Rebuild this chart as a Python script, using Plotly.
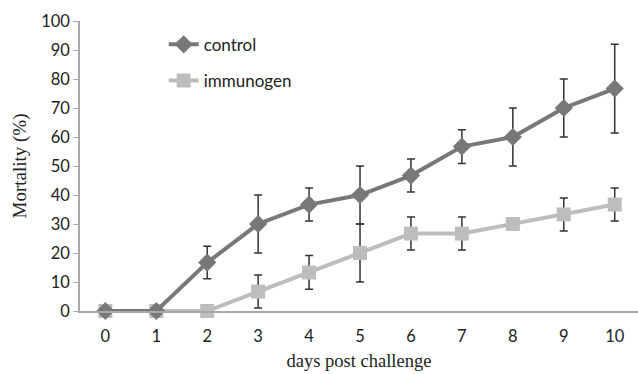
import plotly.graph_objects as go

days = [0, 1, 2, 3, 4, 5, 6, 7, 8, 9, 10]
control = [0, 0, 16.7, 30, 36.7, 40, 46.7, 56.7, 60, 70, 76.7]
control_err = [0, 0, 5.6, 10, 5.7, 10, 5.7, 5.8, 10, 10, 15.3]
immunogen = [0, 0, 0, 6.7, 13.3, 20, 26.7, 26.7, 30, 33.3, 36.7]
immunogen_err = [0, 0, 0, 5.7, 5.8, 10, 5.7, 5.7, 0, 5.7, 5.7]
yticks = [0, 10, 20, 30, 40, 50, 60, 70, 80, 90, 100]

fig = go.Figure()
fig.add_trace(go.Scatter(
    x=days, y=immunogen, name="immunogen", mode="lines+markers",
    line=dict(color="#bdbdbd", width=4),
    marker=dict(symbol="square", size=14, color="#bdbdbd"),
    error_y=dict(type="data", array=immunogen_err, visible=True,
                 color="#333333", thickness=1.5, width=4),
    cliponaxis=False, legendgroup="b", legendrank=2,
))
fig.add_trace(go.Scatter(
    x=days, y=control, name="control", mode="lines+markers",
    line=dict(color="#787878", width=4),
    marker=dict(symbol="diamond", size=14, color="#787878"),
    error_y=dict(type="data", array=control_err, visible=True,
                 color="#333333", thickness=1.5, width=4),
    cliponaxis=False, legendgroup="a", legendrank=1,
))

fig.update_layout(
    width=638, height=374,
    margin=dict(l=80, r=0, t=21, b=63),
    paper_bgcolor="white", plot_bgcolor="white",
    font=dict(family="Lato, Open Sans, sans-serif", size=16.5, color="#222222"),
    showlegend=True,
    legend=dict(x=0.15, y=0.98, xanchor="left", yanchor="top",
                tracegroupgap=11, font=dict(size=17, color="#222222"),
                bgcolor="rgba(0,0,0,0)"),
    xaxis=dict(
        range=[-0.497, 10.457], tickmode="array", tickvals=days,
        ticktext=[str(d) for d in days],
        showgrid=False, zeroline=False, showline=True, linecolor="#a8a8a8",
        linewidth=1.5, ticks="", ticklabelstandoff=9,
        title=dict(text="days post challenge",
                   font=dict(family="Liberation Serif, Times New Roman, serif", size=18.5, color="#222222"),
                   standoff=10),
    ),
    yaxis=dict(
        range=[0, 100], tickmode="array", tickvals=yticks,
        showgrid=False, zeroline=False, showline=True, linecolor="#a8a8a8",
        linewidth=1.5, ticks="outside", ticklen=5, tickcolor="#a8a8a8",
        title=dict(text="Mortality (%)",
                   font=dict(family="Liberation Serif, Times New Roman, serif", size=19, color="#222222"),
                   standoff=10),
    ),
)

fig.write_html("out.html")
